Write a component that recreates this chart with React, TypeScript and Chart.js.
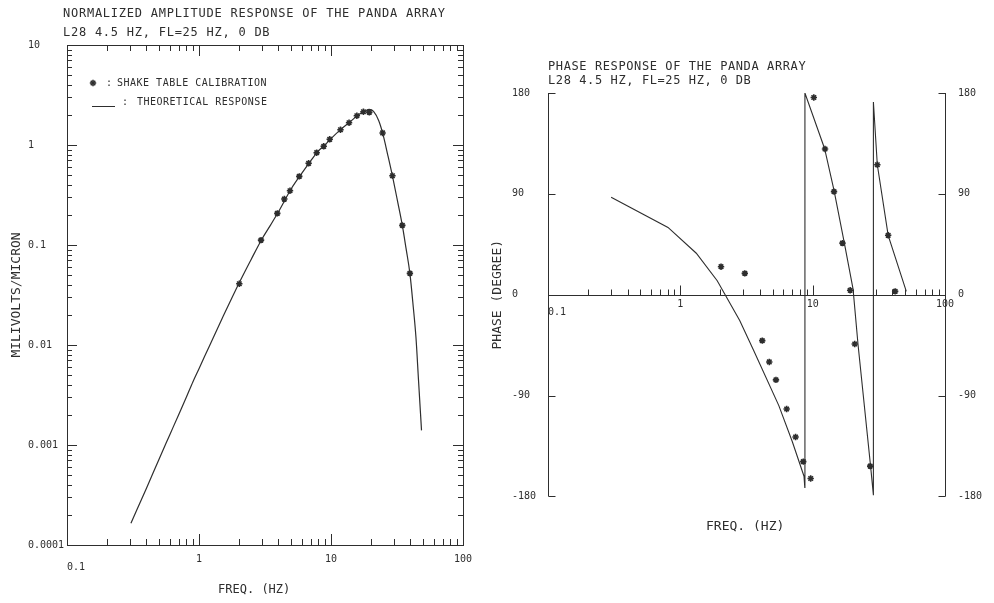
import React, { useEffect, useRef } from 'react';
import { Chart, registerables } from 'chart.js';
Chart.register(...registerables);

const INK = '#2e2e2e';
const MONO = "'DejaVu Sans Mono', 'Liberation Mono', monospace";

// ---------- amplitude response (left) ----------
const ampCurveFreq = [0.305, 0.4, 0.5, 0.6, 0.7, 0.8, 0.9, 1.0, 1.2, 1.5, 2.0, 2.5, 3.0, 3.5, 4.0, 5.0, 6.0, 7.0, 8.0, 9.0, 10, 12, 14, 16, 18, 19.5, 21, 23, 24.6, 27, 29.2, 32, 34.7, 37, 39.6, 42, 44, 46, 48.5];
const ampCurveValue = [1.65e-4, 3.7e-4, 7.3e-4, 1.26e-3, 2.0e-3, 2.98e-3, 4.3e-3, 5.8e-3, 9.8e-3, 0.0185, 0.041, 0.073, 0.115, 0.16, 0.215, 0.365, 0.52, 0.69, 0.87, 1.0, 1.16, 1.45, 1.71, 1.99, 2.18, 2.27, 2.17, 1.75, 1.32, 0.78, 0.49, 0.27, 0.157, 0.093, 0.052, 0.024, 0.012, 0.0045, 0.0014];
const ampCalFreq = [2.02, 2.95, 3.92, 4.43, 4.89, 5.75, 6.77, 7.79, 8.81, 9.78, 11.8, 13.7, 15.7, 17.6, 19.5, 24.6, 29.2, 34.7, 39.6];
const ampCalValue = [0.041, 0.112, 0.207, 0.288, 0.349, 0.486, 0.656, 0.838, 0.97, 1.14, 1.42, 1.67, 1.96, 2.15, 2.12, 1.32, 0.493, 0.157, 0.052];

// ---------- phase response (right) ----------
const phaseCurveFreq = [0.30, 0.807, 1.32, 1.90, 2.81, 3.59, 5.55, 7.01, 8.60, 8.72, 8.74, 12.3, 14.5, 17.3, 20.2, 22.0, 27.5, 28.75, 28.77, 30.8, 37.2, 51.0];
const phaseCurveDeg = [87, 60, 37, 12.5, -23, -50, -99, -131, -162, -172, 180, 130.5, 93, 47, 5, -44, -155, -178.5, 172, 116, 53, 3];
const phaseCalFreq = [2.03, 3.07, 4.16, 4.70, 5.28, 6.36, 7.43, 8.49, 9.66, 10.2, 12.4, 14.5, 16.8, 19.2, 20.8, 27.2, 30.8, 37.2, 42.0];
const phaseCalDeg = [25, 19, -41, -60, -76, -102, -127, -149, -164, 176, 130, 92, 46, 4, -44, -153, 116, 53, 3];

// ---------- axes ----------
const freqDecades = [0.1, 1, 10, 100];
const freqTickLabels = ['0.1', '1', '10', '100'];
const ampDecades = [0.0001, 0.001, 0.01, 0.1, 1, 10];
const ampTickLabels = ['0.0001', '0.001', '0.01', '0.1', '1', '10'];
const phaseTicks = [-180, -90, 0, 90, 180];
const phaseTickLabels = ['-180', '-90', '0', '90', '180'];
const minorSteps = [1, 2, 3, 4, 5, 6, 7, 8, 9];

function logTicks(decades: number[]) {
  const out: number[] = [];
  decades.slice(0, -1).forEach((d) => minorSteps.forEach((k) => out.push(d * k)));
  out.push(decades[decades.length - 1]);
  return out;
}
const isDecade = (v: number, decades: number[]) => decades.some((d) => Math.abs(v / d - 1) < 1e-6);
const decadeIndex = (v: number, decades: number[]) => decades.findIndex((d) => Math.abs(v / d - 1) < 1e-6);

const freqLabel = (v: number) => {
  const i = decadeIndex(v, freqDecades);
  if (i < 0) return '';
  if (i === 0) return ['', '   ' + freqTickLabels[0]];
  return freqTickLabels[i];
};

function seg(ctx: CanvasRenderingContext2D, x1: number, y1: number, x2: number, y2: number) {
  ctx.beginPath();
  ctx.moveTo(x1, y1);
  ctx.lineTo(x2, y2);
  ctx.stroke();
}
const snap = (v: number) => Math.round(v) + 0.5;

const ampFrame = {
  id: 'ampFrame',
  afterDraw(chart: any) {
    const { ctx, chartArea: a, scales } = chart;
    const x = scales.x, y = scales.y;
    ctx.save();
    ctx.strokeStyle = INK;
    ctx.lineWidth = 1;
    ctx.strokeRect(snap(a.left), snap(a.top), Math.round(a.right - a.left), Math.round(a.bottom - a.top));
    x.ticks.forEach((t: any) => {
      const px = snap(x.getPixelForValue(t.value));
      const len = isDecade(t.value, freqDecades) ? 11 : 6;
      seg(ctx, px, a.bottom, px, a.bottom - len);
      seg(ctx, px, a.top, px, a.top + len);
    });
    y.ticks.forEach((t: any) => {
      const py = snap(y.getPixelForValue(t.value));
      const len = isDecade(t.value, ampDecades) ? 10 : 5;
      seg(ctx, a.left, py, a.left + len, py);
      seg(ctx, a.right, py, a.right - len, py);
    });
    ctx.restore();
  },
};

const phaseFrame = {
  id: 'phaseFrame',
  afterDraw(chart: any) {
    const { ctx, chartArea: a, scales } = chart;
    const x = scales.x, y = scales.y;
    ctx.save();
    ctx.strokeStyle = INK;
    ctx.lineWidth = 1;
    const l = snap(a.left), r = snap(a.right);
    seg(ctx, l, a.top, l, a.bottom);
    seg(ctx, r, a.top, r, a.bottom);
    const y0 = snap(y.getPixelForValue(0));
    seg(ctx, a.left, y0, a.right, y0);
    y.ticks.forEach((t: any) => {
      if (t.value === 0) return;
      const py = snap(y.getPixelForValue(t.value));
      seg(ctx, l, py, l + 7, py);
      seg(ctx, r, py, r - 7, py);
    });
    x.ticks.forEach((t: any) => {
      const px = snap(x.getPixelForValue(t.value));
      const len = isDecade(t.value, freqDecades) ? 10 : 6;
      seg(ctx, px, y0, px, y0 - len);
    });
    ctx.restore();
  },
};

const tickFont = { family: MONO, size: 10, lineHeight: 0.8 };
const titleFont = { family: MONO, size: 13, lineHeight: 1.2, weight: 'normal' };

function ampConfig(): any {
  return {
    type: 'scatter',
    data: {
      datasets: [
        {
          label: 'THEORETICAL RESPONSE',
          data: ampCurveFreq.map((f, i) => ({ x: f, y: ampCurveValue[i] })),
          showLine: true,
          borderColor: INK,
          borderWidth: 1.2,
          pointRadius: 0,
          cubicInterpolationMode: 'monotone',
        },
        {
          label: 'SHAKE TABLE CALIBRATION',
          data: ampCalFreq.map((f, i) => ({ x: f, y: ampCalValue[i] })),
          showLine: false,
          pointStyle: 'star',
          pointRadius: 3.2,
          borderColor: INK,
          backgroundColor: INK,
          borderWidth: 1.6,
        },
      ],
    },
    options: {
      animation: false,
      responsive: false,
      devicePixelRatio: 1,
      layout: { padding: { top: 45, right: 27, bottom: 0, left: 28 } },
      plugins: { legend: { display: false }, tooltip: { enabled: false } },
      scales: {
        x: {
          type: 'logarithmic',
          min: 0.1,
          max: 100,
          afterBuildTicks: (s: any) => { s.ticks = logTicks(freqDecades).map((v) => ({ value: v })); },
          afterFit: (s: any) => { s.height = 58; },
          grid: { display: false },
          border: { display: false },
          ticks: { autoSkip: false, maxRotation: 0, minRotation: 0, padding: 2, color: INK, font: tickFont, callback: (v: number) => freqLabel(v) },
          title: { display: true, text: 'FREQ. (HZ)   ', color: INK, font: { family: MONO, size: 12, lineHeight: 1.2 }, padding: { top: 0, bottom: 6 } },
        },
        y: {
          type: 'logarithmic',
          min: 0.0001,
          max: 10,
          afterBuildTicks: (s: any) => { s.ticks = logTicks(ampDecades).map((v) => ({ value: v })); },
          afterFit: (s: any) => { s.width = 39; },
          grid: { display: false },
          border: { display: false },
          ticks: {
            autoSkip: false, crossAlign: 'far', padding: 3, color: INK, font: tickFont,
            callback: (v: number) => { const i = decadeIndex(v, ampDecades); return i < 0 ? '' : ampTickLabels[i]; },
          },
          title: { display: true, text: 'MILIVOLTS/MICRON', color: INK, font: titleFont, padding: { top: -18.8, bottom: 0 } },
        },
      },
    },
    plugins: [ampFrame],
  };
}

function phaseConfig(): any {
  return {
    type: 'scatter',
    data: {
      datasets: [
        {
          label: 'THEORETICAL RESPONSE',
          data: phaseCurveFreq.map((f, i) => ({ x: f, y: phaseCurveDeg[i] })),
          showLine: true,
          borderColor: INK,
          borderWidth: 1.1,
          pointRadius: 0,
          tension: 0,
        },
        {
          label: 'SHAKE TABLE CALIBRATION',
          data: phaseCalFreq.map((f, i) => ({ x: f, y: phaseCalDeg[i] })),
          showLine: false,
          pointStyle: 'star',
          pointRadius: 3.2,
          borderColor: INK,
          backgroundColor: INK,
          borderWidth: 1.6,
        },
      ],
    },
    options: {
      animation: false,
      responsive: false,
      devicePixelRatio: 1,
      layout: { padding: { top: 93, right: 0, bottom: 69, left: 22 } },
      plugins: {
        legend: { display: false },
        tooltip: { enabled: false },
        title: { display: true, position: 'bottom', text: 'FREQ. (HZ)  ', color: INK, font: titleFont, padding: { top: 22, bottom: 0 } },
      },
      scales: {
        x: {
          type: 'logarithmic',
          min: 0.1,
          max: 100,
          position: { y: 0 },
          afterBuildTicks: (s: any) => { s.ticks = logTicks(freqDecades).map((v) => ({ value: v })); },
          grid: { display: false },
          border: { display: false },
          ticks: { autoSkip: false, maxRotation: 0, minRotation: 0, padding: -2, color: INK, font: tickFont, callback: (v: number) => freqLabel(v) },
        },
        y: {
          type: 'linear',
          position: 'left',
          min: -180,
          max: 180,
          afterBuildTicks: (s: any) => { s.ticks = phaseTicks.map((v) => ({ value: v })); },
          afterFit: (s: any) => { s.width = 36; },
          grid: { display: false },
          border: { display: false },
          ticks: {
            autoSkip: false, crossAlign: 'far', padding: 12, color: INK, font: tickFont,
            callback: (v: number) => { const i = phaseTicks.indexOf(v); return i < 0 ? '' : phaseTickLabels[i]; },
          },
          title: { display: true, text: 'PHASE (DEGREE)', color: INK, font: titleFont, padding: { top: -22, bottom: 0 } },
        },
        y2: {
          type: 'linear',
          position: 'right',
          min: -180,
          max: 180,
          afterBuildTicks: (s: any) => { s.ticks = phaseTicks.map((v) => ({ value: v })); },
          afterFit: (s: any) => { s.width = 49; },
          grid: { display: false },
          border: { display: false },
          ticks: {
            autoSkip: false, crossAlign: 'near', padding: 5, color: INK, font: tickFont,
            callback: (v: number) => { const i = phaseTicks.indexOf(v); return i < 0 ? '' : phaseTickLabels[i]; },
          },
        },
      },
    },
    plugins: [phaseFrame],
  };
}

function Text(props: { x: number; y: number; size: number; spacing: number; children: React.ReactNode }) {
  const { x, y, size, spacing, children } = props;
  return (
    <div
      style={{
        position: 'absolute', left: x, top: y - size * 0.6, fontFamily: MONO, fontSize: size,
        lineHeight: `${size * 1.2}px`, letterSpacing: spacing, color: INK, whiteSpace: 'pre',
      }}
    >
      {children}
    </div>
  );
}

function StarIcon(props: { x: number; y: number }) {
  const r = 3.2;
  const d = r * 0.7071;
  return (
    <svg style={{ position: 'absolute', left: props.x - 5, top: props.y - 5 }} width={10} height={10}>
      <g stroke={INK} strokeWidth={1.6}>
        <line x1={5 - r} y1={5} x2={5 + r} y2={5} />
        <line x1={5} y1={5 - r} x2={5} y2={5 + r} />
        <line x1={5 - d} y1={5 - d} x2={5 + d} y2={5 + d} />
        <line x1={5 - d} y1={5 + d} x2={5 + d} y2={5 - d} />
      </g>
    </svg>
  );
}

export default function App() {
  const ampRef = useRef<HTMLCanvasElement>(null);
  const phaseRef = useRef<HTMLCanvasElement>(null);

  useEffect(() => {
    const c1 = new Chart(ampRef.current as HTMLCanvasElement, ampConfig());
    const c2 = new Chart(phaseRef.current as HTMLCanvasElement, phaseConfig());
    return () => {
      c1.destroy();
      c2.destroy();
    };
  }, []);

  return (
    <div style={{ position: 'fixed', left: 0, top: 0, width: 994, height: 603, background: '#fff', overflow: 'hidden' }}>
      <canvas ref={ampRef} width={490} height={603} style={{ position: 'absolute', left: 0, top: 0, width: 490, height: 603 }} />
      <canvas ref={phaseRef} width={504} height={603} style={{ position: 'absolute', left: 490, top: 0, width: 504, height: 603 }} />

      <Text x={63} y={13} size={12} spacing={0.75}>NORMALIZED AMPLITUDE RESPONSE OF THE PANDA ARRAY</Text>
      <Text x={63} y={32} size={12} spacing={0.75}>L28 4.5 HZ, FL=25 HZ, 0 DB</Text>

      <Text x={548} y={66} size={12} spacing={0.6}>PHASE RESPONSE OF THE PANDA ARRAY</Text>
      <Text x={548} y={80} size={12} spacing={0.6}>L28 4.5 HZ, FL=25 HZ, 0 DB</Text>

      <StarIcon x={93} y={83} />
      <Text x={106} y={83} size={10} spacing={0.5}>:</Text>
      <Text x={117} y={83} size={10} spacing={0.5}>SHAKE TABLE CALIBRATION</Text>
      <div style={{ position: 'absolute', left: 92, top: 106, width: 23, height: 0, borderTop: `1.2px solid ${INK}` }} />
      <Text x={122} y={102} size={10} spacing={0.5}>:</Text>
      <Text x={137} y={102} size={10} spacing={0.5}>THEORETICAL RESPONSE</Text>
    </div>
  );
}
